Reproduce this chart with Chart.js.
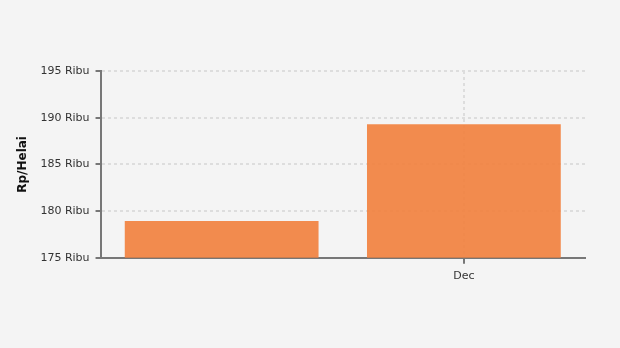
<!DOCTYPE html>
<html>
<head>
<meta charset="utf-8">
<script src="https://cdn.jsdelivr.net/npm/chart.js@4"></script>
<style>
  html, body { margin: 0; padding: 0; background: #f4f4f4; }
  #wrap { width: 620px; height: 348px; }
</style>
</head>
<body>
<div id="wrap"><canvas id="canvas" width="620" height="348"></canvas></div>
<script>
const months = ['Nov', 'Dec']
const prices = [178.95, 189.3]
const tickValues = [175, 180, 185, 190, 195]

const ctx = document.querySelector('#canvas').getContext('2d')

const config = {
  type: 'bar',
  data: {
    labels: months,
    datasets: [{
      data: prices,
      backgroundColor: 'rgba(242, 128, 60, 0.9)',
      borderWidth: 0,
      categoryPercentage: 1,
      barPercentage: 0.8
    }]
  },
  options: {
    responsive: false,
    animation: false,
    layout: { padding: { top: 71, right: 35, bottom: 59, left: 16 } },
    plugins: {
      legend: { display: false },
      tooltip: { enabled: false }
    },
    scales: {
      x: {
        grid: {
          color: c => c.index === 0 ? 'rgba(0,0,0,0)' : '#dddddd',
          lineWidth: 2,
          tickColor: c => c.index === 0 ? 'rgba(0,0,0,0)' : '#777',
          tickLength: 6,
          tickWidth: 2,
          offset: false
        },
        border: { color: '#777', width: 2, dash: [3, 3] },
        ticks: {
          color: '#333',
          font: { family: 'DejaVu Sans', size: 11 },
          padding: 6,
          callback: (v, i) => i === 0 ? '' : months[i]
        }
      },
      y: {
        min: 175,
        max: 195,
        afterBuildTicks: axis => { axis.ticks = tickValues.map(v => ({ value: v })) },
        grid: {
          color: '#dddddd',
          lineWidth: 2,
          tickColor: '#777',
          tickLength: 5,
          tickWidth: 2
        },
        border: { color: '#777', width: 2, dash: [3, 3] },
        ticks: {
          color: '#333',
          font: { family: 'DejaVu Sans', size: 11 },
          padding: 6,
          callback: v => v + ' Ribu'
        },
        title: {
          display: true,
          text: 'Rp/Helai',
          color: '#111',
          font: { family: 'DejaVu Sans', size: 12, weight: 'bold' },
          padding: { top: 0, bottom: 4 }
        }
      }
    }
  }
}

new Chart(ctx, config)
</script>
</body>
</html>
